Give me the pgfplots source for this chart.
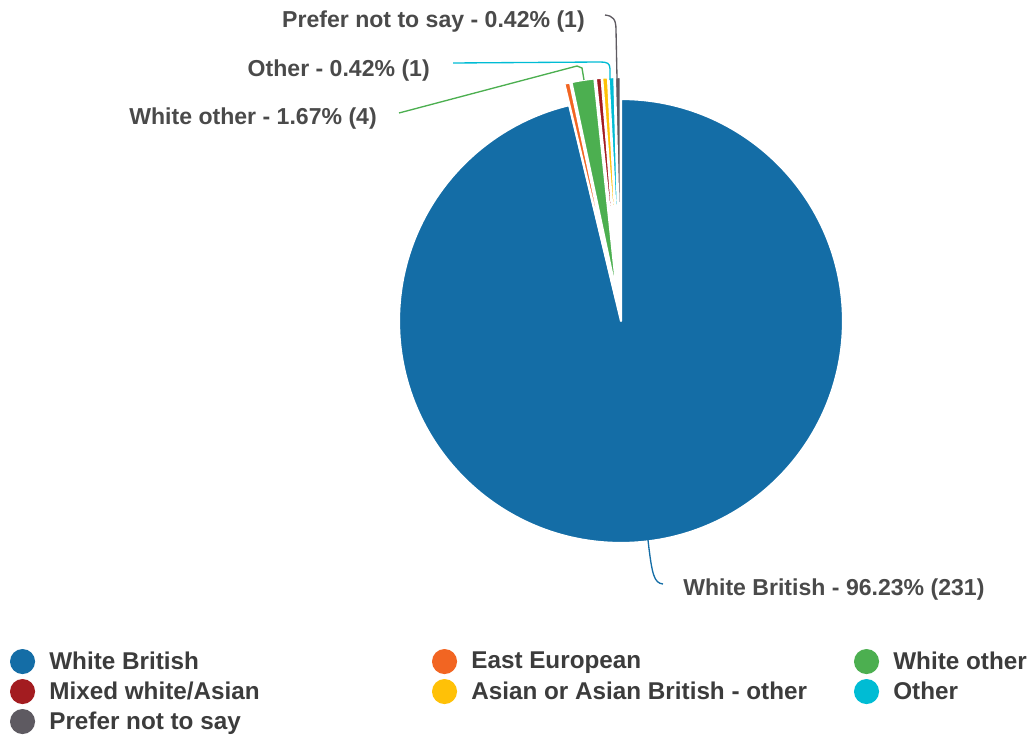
\documentclass[border=0pt]{standalone}
\usepackage{pgfplots}
\pgfplotsset{compat=1.18}
\usepackage{fontspec}
\setmainfont{Liberation Sans}
\definecolor{cWB}{HTML}{146DA6}
\definecolor{cEE}{HTML}{F26522}
\definecolor{cWO}{HTML}{4CAF50}
\definecolor{cMX}{HTML}{A31C20}
\definecolor{cAS}{HTML}{FFC107}
\definecolor{cOT}{HTML}{00BCD4}
\definecolor{cPN}{HTML}{5E5A61}
\definecolor{labtext}{HTML}{4A4A4A}
\definecolor{legtext}{HTML}{3C3C3C}
\pgfplotsset{dot legend/.style={legend image code/.code={%
  \path[draw=none, fill=none] (0pt,-9.4pt) rectangle (29.5pt,9.4pt);
  \fill[##1, draw=none] (9.4pt,0pt) circle (9.4pt);}}}
\begin{document}
\begin{tikzpicture}
\begin{axis}[x=0.75pt, y=0.75pt, xmin=0, xmax=1035, ymin=0, ymax=740,
  hide axis, clip=false,
  legend columns=3, legend cell align=left,
  legend style={at={(axis cs:10,91)}, anchor=north west, draw=none, fill=none,
    inner sep=0pt, outer sep=0pt, /tikz/column sep=0pt, /tikz/row sep=3.7pt,
    nodes={inner sep=0pt, text=legtext, font=\fontsize{18.2}{20}\selectfont\bfseries}},
  ]
\path (axis cs:0,0) rectangle (axis cs:1035,740);
% pie: counts (total 240), clockwise from 12 o'clock
\def\cum{0}
\foreach \v/\c/\ex in {231/cWB/0, 1/cEE/16.5, 4/cWO/16.5, 1/cMX/16.5, 1/cAS/16.5, 1/cOT/16.5, 1/cPN/16.5}{
  \pgfmathsetmacro\sa{90-\cum*1.5}
  \pgfmathsetmacro\ea{90-(\cum+\v)*1.5}
  \pgfmathsetmacro\ma{(\sa+\ea)/2}
  \edef\temp{\noexpand\fill[\c, draw=white, line width=1.6pt, line join=round]
    ([shift={(\ma:\ex pt)}]axis cs:621,419) -- ++(\sa:166.5pt)
    arc[start angle=\sa, end angle=\ea, radius=166.5pt] -- cycle;}
  \temp
  \pgfmathsetmacro\nc{\cum+\v}
  \xdef\cum{\nc}
}
% leader lines
\draw[cPN, line width=1pt] (617,662) -- (616,710) .. controls (616,721) and (613,724) .. (605,725);
\draw[cOT, line width=1pt] (610,660) -- (610,671) .. controls (610,677) and (607,678) .. (600,678) -- (453,677);
\draw[cWO, line width=1pt] (584,660) -- (582,672) -- (577,674) -- (399,627);
\draw[cWB, line width=1pt] (648,200) .. controls (652,165) and (654,157) .. (663,156);
% labels
\begin{scope}[every node/.style={inner sep=0pt, text=labtext, font=\fontsize{17.3}{20}\selectfont\bfseries}]
\node[anchor=east] at (585,718) {Prefer not to say - 0.42\% (1)};
\node[anchor=east] at (430,669) {Other - 0.42\% (1)};
\node[anchor=east] at (377,621) {White other - 1.67\% (4)};
\node[anchor=west] at (683,150) {White British - 96.23\% (231)};
\end{scope}
% legend
\addlegendimage{dot legend, cWB}\addlegendentry{\makebox[287pt][l]{White British}}
\addlegendimage{dot legend, cEE}\addlegendentry{\makebox[287pt][l]{East European}}
\addlegendimage{dot legend, cWO}\addlegendentry{White other}
\addlegendimage{dot legend, cMX}\addlegendentry{\makebox[287pt][l]{Mixed white/Asian}}
\addlegendimage{dot legend, cAS}\addlegendentry{\makebox[287pt][l]{Asian or Asian British - other}}
\addlegendimage{dot legend, cOT}\addlegendentry{Other}
\addlegendimage{dot legend, cPN}\addlegendentry{\makebox[287pt][l]{Prefer not to say}}
\end{axis}
\end{tikzpicture}
\end{document}
